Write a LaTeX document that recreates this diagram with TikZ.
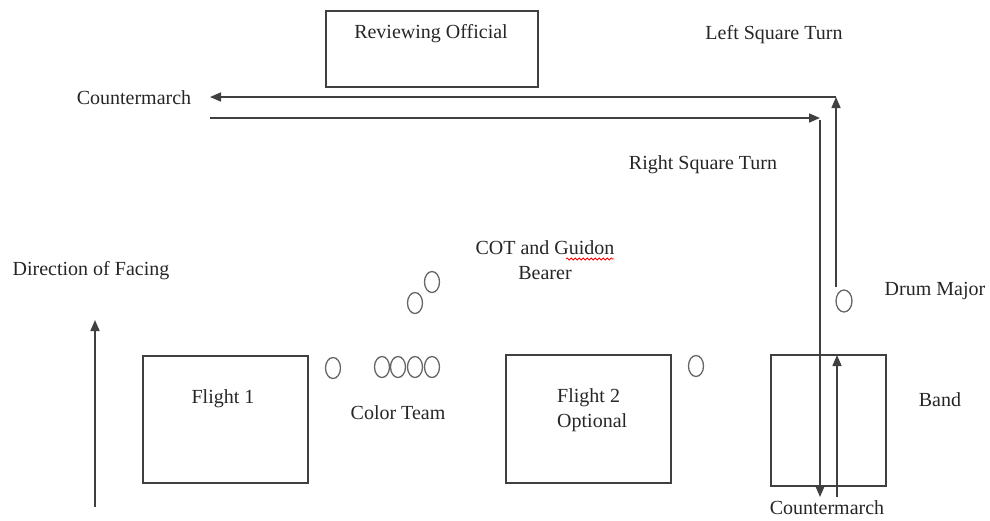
\documentclass[tikz,border=0pt]{standalone}
\usepackage{fontspec}
\setmainfont{Liberation Serif}
\usetikzlibrary{arrows.meta,shapes.geometric,decorations.pathmorphing}
\begin{document}
\begin{tikzpicture}[x=1pt,y=-1pt,
  lbl/.style={font=\fontsize{20}{25}\selectfont, inner sep=0pt, text=black!85},
  boxs/.style={draw=black!75, line width=1.6pt},
  conn/.style={draw=black!75, line width=1.6pt},
  tipped/.style={-{Triangle[length=11pt,width=9pt]}},
  person/.style={ellipse, draw=black!60, line width=1.3pt, minimum width=15pt, minimum height=21pt, inner sep=0pt}
]
\useasboundingbox (0,0) rectangle (990,520);
% boxes
\draw[boxs] (326,11) rectangle (538,87);
\node[lbl] (ro) at (431,34) {Reviewing Official};
\draw[boxs] (143,356) rectangle (308,483);
\node[lbl] (f1) at (223,399) {Flight 1};
\draw[boxs] (506,355) rectangle (671,483);
\node[lbl, align=left, anchor=west] (f2) at (557,410) {Flight 2\\Optional};
\draw[boxs] (771,355) rectangle (886,486);
% labels
\node[lbl] (lst) at (774,35) {Left Square Turn};
\node[lbl] (cm1) at (134,98) {Countermarch};
\node[lbl] (rst) at (703,165) {Right Square Turn};
\node[lbl] (dof) at (91,271) {Direction of Facing};
\node[lbl, align=center] (cot) at (545,260) {COT and Guidon\\Bearer};
\draw[red, line width=0.8pt, decorate, decoration={snake, amplitude=1pt, segment length=4pt}] (566,259) -- (614,259);
\node[lbl] (ct) at (398,413) {Color Team};
\node[lbl] (dm) at (935,291) {Drum Major};
\node[lbl] (band) at (940,400) {Band};
\node[lbl] (cm2) at (827,508) {Countermarch};
% people
\node[person] (p0) at (333,368) {};
\node[person] (c1) at (382,367) {};
\node[person] (c2) at (398,367) {};
\node[person] (c3) at (415,367) {};
\node[person] (c4) at (432,367) {};
\node[person] (g1) at (415,303) {};
\node[person] (g2) at (432,282) {};
\node[person] (p2) at (696,366) {};
\node[person, minimum width=16pt, minimum height=22pt] (dmp) at (844,301) {};
% turn points
\coordinate (a0) at (836,287);
\coordinate (a1) at (836,97);
\coordinate (a2) at (210,97);
\coordinate (b0) at (210,118);
\coordinate (b1) at (820,118);
\coordinate (b1v) at (820,120);
\coordinate (b2) at (820,497);
\coordinate (c0) at (837,497);
\coordinate (c1t) at (837,355);
\coordinate (d0) at (95,507);
\coordinate (d1) at (95,320);
% connectors
\draw[conn, tipped] (a0) -- (a1);
\draw[conn, tipped] (a1) -- (a2);
\draw[conn, tipped] (b0) -- (b1);
\draw[conn, tipped] (b1v) -- (b2);
\draw[conn, tipped] (c0) -- (c1t);
\draw[conn, tipped] (d0) -- (d1);
\end{tikzpicture}
\end{document}
